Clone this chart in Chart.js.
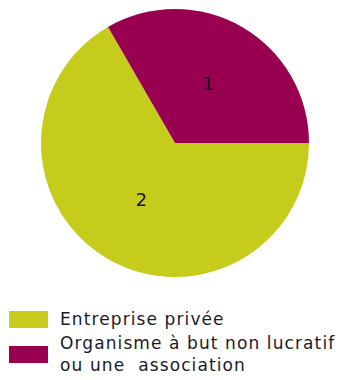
<!doctype html>
<html lang="fr">
  <head>
    <meta charset="utf-8">
    <title>Pie</title>
    <style>
      * { margin: 0; padding: 0; }
      body { width: 339px; height: 380px; background: #fff; position: relative; overflow: hidden;
             font-family: "DejaVu Sans", sans-serif; }
      .chartBox { position: absolute; left: 41px; top: 9px; width: 268px; height: 268px; }
      .legend { position: absolute; left: 0; top: 308px; }
      .item { position: relative; padding-left: 60px; margin-bottom: 2px;
              font-size: 17px; line-height: 22px; letter-spacing: 1.1px; color: #1a1a2a; white-space: pre; }
      .item span.box { position: absolute; left: 9px; top: 50%; width: 39px; height: 17px; margin-top: -8.5px; }
    </style>
  </head>
  <body>
    <div class="chartBox"><canvas id="myChart"></canvas></div>
    <div class="legend" id="legend"></div>
    <script src="https://cdn.jsdelivr.net/npm/chart.js/dist/chart.umd.min.js"></script>
    <script>
    // data
    const categories = ['Entreprise privée', 'Organisme à but non lucratif\nou une  association'];
    const counts = [2, 1];
    const colors = ['#c5cc1c', '#990050'];

    // value labels in the middle of each slice
    const sliceLabels = {
      id: 'sliceLabels',
      afterDatasetsDraw(chart) {
        const { ctx } = chart;
        const meta = chart.getDatasetMeta(0);
        ctx.save();
        ctx.font = '18px "DejaVu Sans", sans-serif';
        ctx.fillStyle = '#111';
        ctx.textAlign = 'center';
        ctx.textBaseline = 'middle';
        meta.data.forEach((arc, i) => {
          const p = arc.tooltipPosition();
          ctx.fillText(String(counts[i]), p.x, p.y);
        });
        ctx.restore();
      }
    };

    const config = {
      type: 'pie',
      data: {
        labels: categories,
        datasets: [{
          data: counts,
          backgroundColor: colors,
          borderWidth: 0
        }]
      },
      options: {
        responsive: true,
        maintainAspectRatio: false,
        animation: false,
        rotation: 90,
        layout: { padding: 0 },
        plugins: {
          legend: { display: false },
          tooltip: { enabled: false }
        }
      },
      plugins: [sliceLabels]
    };

    new Chart(document.getElementById('myChart'), config);

    // html legend
    const legend = document.getElementById('legend');
    categories.forEach((label, i) => {
      const div = document.createElement('div');
      div.className = 'item';
      const box = document.createElement('span');
      box.className = 'box';
      box.style.background = colors[i];
      div.appendChild(box);
      div.appendChild(document.createTextNode(label));
      legend.appendChild(div);
    });
    </script>
  </body>
</html>
